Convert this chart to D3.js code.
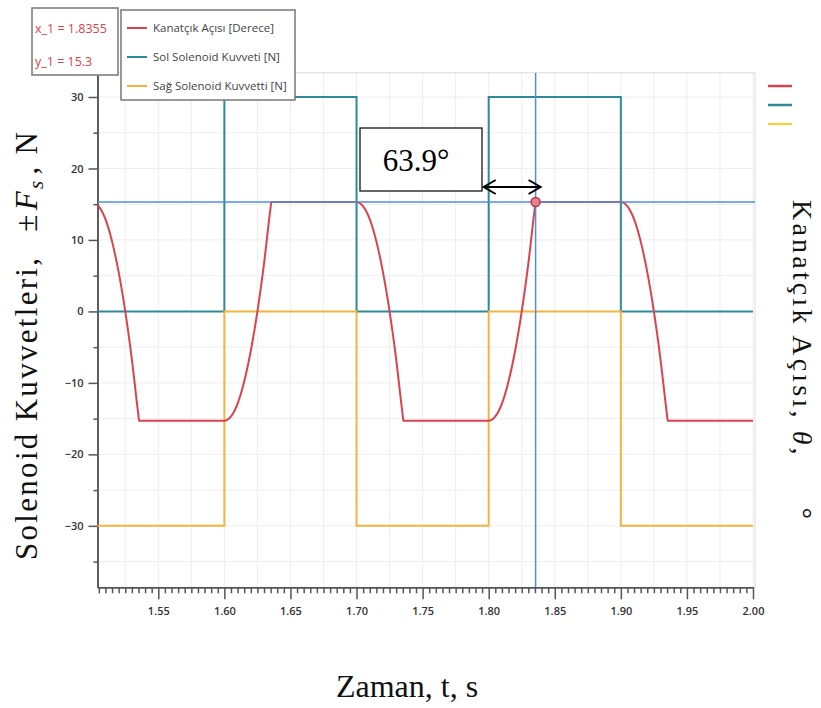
<!DOCTYPE html>
<html>
<head>
<meta charset="utf-8">
<script src="https://cdn.jsdelivr.net/npm/d3@7"></script>
<style>
    body { margin: 0; background: #fff; }
    svg { display: block; }
    .tick text { font-family: "Open Sans", sans-serif; font-weight: 600; font-size: 11px; fill: #333; }
</style>
</head>
<body>
<div id="chart"></div>
<script>
// time axis + values
var ticksX = [1.55, 1.60, 1.65, 1.70, 1.75, 1.80, 1.85, 1.90, 1.95, 2.00];
var ticksY = [-30, -20, -10, 0, 10, 20, 30];

// solenoid forces (step after each time)
var stepTime = [1.50, 1.60, 1.70, 1.80, 1.90, 2.00];
var solKuvvet = [0, 30, 0, 30, 0, 0];
var sagKuvvet = [-30, 0, -30, 0, -30, -30];

// flap angle
var aciTime = [1.500, 1.505, 1.510, 1.515, 1.520, 1.525, 1.530, 1.535, 1.5355,
    1.600, 1.605, 1.610, 1.615, 1.620, 1.625, 1.630, 1.635, 1.6355,
    1.700, 1.705, 1.710, 1.715, 1.720, 1.725, 1.730, 1.735, 1.7355,
    1.800, 1.805, 1.810, 1.815, 1.820, 1.825, 1.830, 1.835, 1.8355,
    1.900, 1.905, 1.910, 1.915, 1.920, 1.925, 1.930, 1.935, 1.9355, 2.000];
var aciDeger = [15.3, 14.7, 12.9, 9.8, 5.5, 0.0, -6.7, -14.6, -15.3,
    -15.3, -14.7, -12.9, -9.8, -5.5, 0.0, 6.7, 14.6, 15.3,
    15.3, 14.7, 12.9, 9.8, 5.5, 0.0, -6.7, -14.6, -15.3,
    -15.3, -14.7, -12.9, -9.8, -5.5, 0.0, 6.7, 14.6, 15.3,
    15.3, 14.7, 12.9, 9.8, 5.5, 0.0, -6.7, -14.6, -15.3, -15.3];

var cursorX = 1.8355, cursorY = 15.3;
var legendNames = ["Kanatçık Açısı [Derece]", "Sol Solenoid Kuvveti [N]", "Sağ Solenoid Kuvvetti [N]"];
var colors = ["#d9434f", "#2d8a98", "#f6b33c"];

window.onload = function () {
    var W = 821, H = 708;
    var left = 97.5, right = 755, top = 72.7, bottom = 587.3;

    var svg = d3.select("#chart").append("svg")
        .attr("width", W).attr("height", H);

    var x = d3.scaleLinear().domain([1.504, 2.0]).range([left, 753]);
    var y = d3.scaleLinear().domain([-38.6, 33.4]).range([bottom, top]);

    svg.append("defs").append("clipPath").attr("id", "plotclip")
        .append("rect").attr("x", left).attr("y", top)
        .attr("width", right - left).attr("height", bottom - top);

    // grid
    var gx = d3.range(1.525, 2.001, 0.025);
    svg.append("g").selectAll("line").data(gx).enter().append("line")
        .attr("x1", d => x(d)).attr("x2", d => x(d))
        .attr("y1", top).attr("y2", bottom)
        .style("stroke", "#eeeeee").style("stroke-width", 1);
    var gy = d3.range(-35, 31, 5);
    svg.append("g").selectAll("line").data(gy).enter().append("line")
        .attr("x1", left).attr("x2", right)
        .attr("y1", d => y(d)).attr("y2", d => y(d))
        .style("stroke", "#eeeeee").style("stroke-width", 1);

    // plot frame
    svg.append("rect").attr("x", left).attr("y", top)
        .attr("width", right - left).attr("height", bottom - top)
        .style("fill", "none").style("stroke", "#dcdcdc");

    // axes
    var minorX = d3.range(1.505, 2.0001, 0.005).filter(v => Math.abs(v * 20 - Math.round(v * 20)) > 0.01);
    svg.append("g").attr("transform", "translate(0," + bottom + ")")
        .call(d3.axisBottom(x).tickValues(minorX).tickSize(6).tickFormat("").tickSizeOuter(0))
        .call(g => g.selectAll("line, path").style("stroke", "#555").style("stroke-width", 1.5));
    svg.append("g").attr("transform", "translate(0," + bottom + ")")
        .call(d3.axisBottom(x).tickValues(ticksX).tickSize(12).tickSizeOuter(0).tickPadding(8)
            .tickFormat(d3.format(".2f")))
        .call(g => g.selectAll("line, path").style("stroke", "#555").style("stroke-width", 1.5));

    svg.append("g").attr("transform", "translate(" + left + ",0)")
        .call(d3.axisLeft(y).tickValues([-35, -25, -15, -5, 5, 15, 25]).tickSize(4).tickFormat("").tickSizeOuter(0))
        .call(g => g.selectAll("line, path").style("stroke", "#555").style("stroke-width", 1.5));
    svg.append("g").attr("transform", "translate(" + left + ",0)")
        .call(d3.axisLeft(y).tickValues(ticksY).tickSize(9).tickSizeOuter(0).tickPadding(5))
        .call(g => g.selectAll("line, path").style("stroke", "#555").style("stroke-width", 1.5));

    // series
    var plot = svg.append("g").attr("clip-path", "url(#plotclip)");
    var stepLine = d3.line().x(d => x(d[0])).y(d => y(d[1])).curve(d3.curveStepAfter);
    plot.append("path").datum(stepTime.map((t, i) => [t, solKuvvet[i]]))
        .attr("d", stepLine).style("fill", "none").style("stroke", colors[1]).style("stroke-width", 2);
    plot.append("path").datum(stepTime.map((t, i) => [t, sagKuvvet[i]]))
        .attr("d", stepLine).style("fill", "none").style("stroke", colors[2]).style("stroke-width", 2);
    var aciLine = d3.line().x(d => x(d[0])).y(d => y(d[1])).curve(d3.curveMonotoneX);
    plot.append("path").datum(aciTime.map((t, i) => [t, aciDeger[i]]))
        .attr("d", aciLine).style("fill", "none").style("stroke", colors[0]).style("stroke-width", 2);

    // crosshair
    plot.append("line").attr("x1", left).attr("x2", right)
        .attr("y1", y(cursorY)).attr("y2", y(cursorY))
        .style("stroke", "#4f8fd8").style("stroke-width", 1.5);
    plot.append("line").attr("x1", x(cursorX)).attr("x2", x(cursorX))
        .attr("y1", top).attr("y2", bottom)
        .style("stroke", "#4f8fd8").style("stroke-width", 1.5);
    svg.append("circle").attr("cx", x(cursorX)).attr("cy", y(cursorY)).attr("r", 4.5)
        .style("fill", "#ea7f8c").style("stroke", "#b2384a").style("stroke-width", 1.5);

    // readout box
    svg.append("rect").attr("x", 32).attr("y", 8).attr("width", 86).attr("height", 67)
        .style("fill", "#fff").style("stroke", "#777").style("stroke-width", 1.5);
    svg.append("text").attr("x", 35).attr("y", 33).text("x_1 = " + cursorX)
        .style("font-family", "Open Sans, sans-serif").style("font-size", "12.5px").style("fill", "#e0404a");
    svg.append("text").attr("x", 35).attr("y", 66).text("y_1 = " + cursorY)
        .style("font-family", "Open Sans, sans-serif").style("font-size", "12.5px").style("fill", "#e0404a");

    // legend
    svg.append("rect").attr("x", 121).attr("y", 10).attr("width", 174).attr("height", 90)
        .style("fill", "#fff").style("stroke", "#777").style("stroke-width", 1.5);
    var leg = svg.append("g").selectAll("g").data(legendNames).enter().append("g")
        .attr("transform", (d, i) => "translate(127," + (28 + i * 29) + ")");
    leg.append("line").attr("x1", 0).attr("x2", 20)
        .style("stroke", (d, i) => colors[i]).style("stroke-width", 2);
    leg.append("text").attr("x", 26).attr("y", 4).text(d => d)
        .style("font-family", "Open Sans, sans-serif").style("font-size", "11.5px").style("fill", "#444");

    // small legend marks on the right
    svg.append("g").selectAll("line").data(colors).enter().append("line")
        .attr("x1", 768).attr("x2", 792)
        .attr("y1", (d, i) => 86 + i * 19).attr("y2", (d, i) => 86 + i * 19)
        .style("stroke", (d, i) => i == 2 ? "#e8d44e" : d).style("stroke-width", 2.5);

    // 63.9° annotation
    svg.append("rect").attr("x", 360).attr("y", 128).attr("width", 122).attr("height", 63)
        .style("fill", "#fff").style("stroke", "#000").style("stroke-width", 1.2);
    svg.append("text").attr("x", 416).attr("y", 171).attr("text-anchor", "middle")
        .style("font-family", "Liberation Serif, serif").style("font-size", "31px").text("63.9°");
    var ay = 187, ax1 = x(1.80) - 5, ax2 = x(cursorX) + 5;
    svg.append("line").attr("x1", ax1).attr("x2", ax2).attr("y1", ay).attr("y2", ay)
        .style("stroke", "#000").style("stroke-width", 2);
    svg.append("path").attr("d", "M" + (ax1 + 12) + "," + (ay - 7) + "L" + ax1 + "," + ay + "L" + (ax1 + 12) + "," + (ay + 7))
        .style("fill", "none").style("stroke", "#000").style("stroke-width", 2);
    svg.append("path").attr("d", "M" + (ax2 - 12) + "," + (ay - 7) + "L" + ax2 + "," + ay + "L" + (ax2 - 12) + "," + (ay + 7))
        .style("fill", "none").style("stroke", "#000").style("stroke-width", 2);

    // axis titles
    svg.append("text").attr("x", 407).attr("y", 697).attr("text-anchor", "middle")
        .style("font-family", "Liberation Serif, serif").style("font-size", "32px").style("fill", "#111")
        .text("Zaman, t, s");

    var yl = svg.append("text").attr("transform", "translate(37,560) rotate(-90)")
        .style("font-family", "Liberation Serif, serif").style("font-size", "31px").style("fill", "#111")
        .style("letter-spacing", "2.3px");
    yl.append("tspan").text("Solenoid Kuvvetleri, ");
    yl.append("tspan").attr("dx", 14).text("±");
    yl.append("tspan").attr("dx", 2).style("font-style", "italic").text("F");
    yl.append("tspan").attr("dy", 6).style("font-size", "21px").style("font-style", "italic").text("s");
    yl.append("tspan").attr("dy", -6).attr("dx", 4).text(",  N");

    var yr = svg.append("text").attr("transform", "translate(793,200) rotate(90)")
        .style("font-family", "Liberation Serif, serif").style("font-size", "28px").style("fill", "#111")
        .style("letter-spacing", "3.2px");
    yr.append("tspan").text("Kanatçık Açısı,");
    yr.append("tspan").attr("dx", 10).style("font-style", "italic").text("θ");
    yr.append("tspan").text(",");
    yr.append("tspan").attr("dx", 50).text("°");
};
</script>
</body>
</html>
